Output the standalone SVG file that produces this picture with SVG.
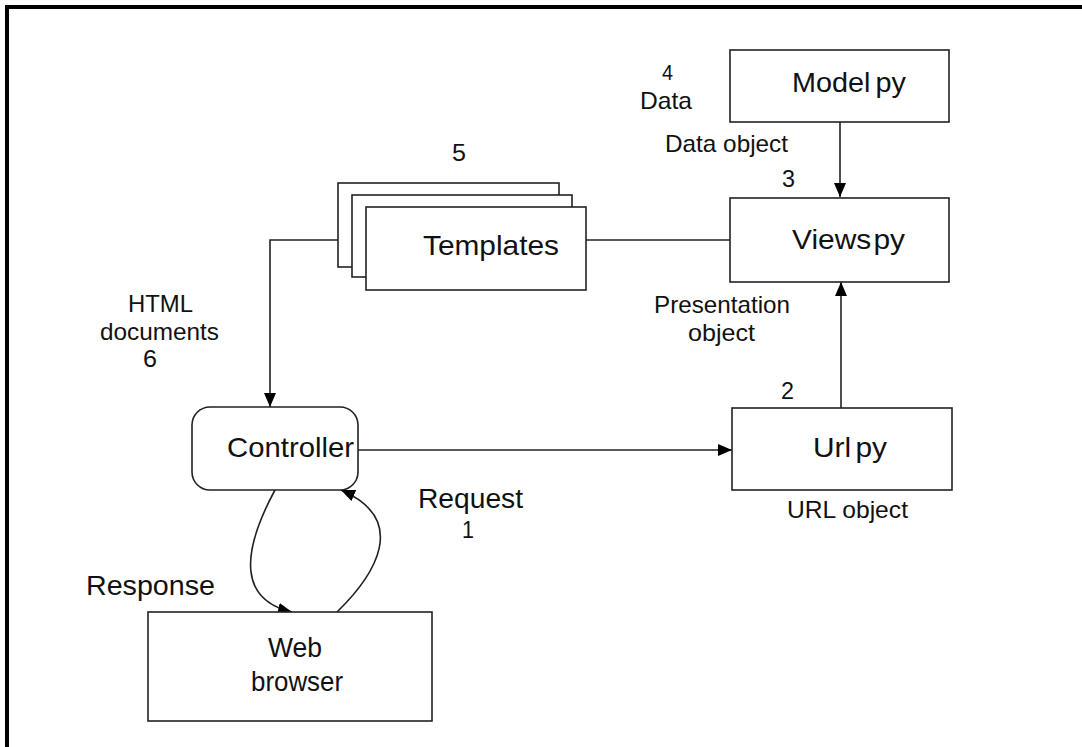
<svg xmlns="http://www.w3.org/2000/svg" width="1082" height="747" viewBox="0 0 1082 747">
<style>
.box{fill:#fff;stroke:#222;stroke-width:1.6}
.ln{fill:none;stroke:#222;stroke-width:1.6}
.t{font-family:"Liberation Sans",Arial,sans-serif;fill:#111}
</style>
<defs>
<marker id="ah" markerUnits="userSpaceOnUse" markerWidth="16" markerHeight="14" refX="14" refY="6" orient="auto">
<path d="M0,0 L14,6 L0,12 Z" fill="#000"/>
</marker>
</defs>
<rect width="1082" height="747" fill="#fff"/>
<path d="M7,747 V7 H1082" fill="none" stroke="#000" stroke-width="4"/>

<g id="connectors">
<line class="ln" x1="840" y1="122" x2="840" y2="197" marker-end="url(#ah)"/>
<line class="ln" x1="841" y1="408" x2="841" y2="282" marker-end="url(#ah)"/>
<line class="ln" x1="586" y1="240" x2="730" y2="240"/>
<path class="ln" d="M338,240 H270 V407" marker-end="url(#ah)"/>
<line class="ln" x1="358" y1="450" x2="732" y2="450" marker-end="url(#ah)"/>
<path class="ln" d="M275,490 C240,555 240,600 292,612" marker-end="url(#ah)"/>
<path class="ln" d="M337,612 C375,575 410,520 341,490" marker-end="url(#ah)"/>
</g>

<g id="model">
<rect class="box" x="730" y="50" width="219" height="72"/>
<text class="t" x="792" y="92" font-size="28" textLength="114" lengthAdjust="spacingAndGlyphs">Model<tspan dx="5">py</tspan></text>
</g>
<g id="views">
<rect class="box" x="730" y="198" width="219" height="84"/>
<text class="t" x="792" y="249" font-size="28" textLength="113" lengthAdjust="spacingAndGlyphs">Views<tspan dx="2">py</tspan></text>
</g>
<g id="url">
<rect class="box" x="732" y="408" width="220" height="82"/>
<text class="t" x="813" y="457" font-size="28" textLength="74" lengthAdjust="spacingAndGlyphs">Url<tspan dx="4">py</tspan></text>
</g>
<g id="templates">
<rect class="box" x="338" y="183" width="221" height="84"/>
<rect class="box" x="352" y="195" width="220" height="82"/>
<rect class="box" x="366" y="207" width="220" height="83"/>
<text class="t" x="423" y="255" font-size="28" textLength="136" lengthAdjust="spacingAndGlyphs">Templates</text>
</g>
<g id="controller">
<rect class="box" x="192" y="407" width="166" height="83" rx="18" ry="18"/>
<text class="t" x="227" y="457" font-size="28" textLength="127" lengthAdjust="spacingAndGlyphs">Controller</text>
</g>
<g id="browser">
<rect class="box" x="148" y="612" width="284" height="109"/>
<text class="t" x="268" y="657" font-size="27" textLength="54" lengthAdjust="spacingAndGlyphs">Web</text>
<text class="t" x="251" y="691" font-size="27" textLength="92" lengthAdjust="spacingAndGlyphs">browser</text>
</g>

<g id="labels" class="t">
<text x="662" y="80" font-size="22" textLength="11" lengthAdjust="spacingAndGlyphs">4</text>
<text x="640" y="109" font-size="24" textLength="52" lengthAdjust="spacingAndGlyphs">Data</text>
<text x="665" y="152" font-size="24" textLength="123" lengthAdjust="spacingAndGlyphs">Data object</text>
<text x="782" y="187" font-size="23" textLength="13" lengthAdjust="spacingAndGlyphs">3</text>
<text x="452" y="161" font-size="24" textLength="14" lengthAdjust="spacingAndGlyphs">5</text>
<text x="654" y="313" font-size="24" textLength="136" lengthAdjust="spacingAndGlyphs">Presentation</text>
<text x="688" y="341" font-size="24" textLength="67" lengthAdjust="spacingAndGlyphs">object</text>
<text x="781" y="399" font-size="23" textLength="13" lengthAdjust="spacingAndGlyphs">2</text>
<text x="787" y="518" font-size="24" textLength="121" lengthAdjust="spacingAndGlyphs">URL object</text>
<text x="128" y="312" font-size="24" textLength="65" lengthAdjust="spacingAndGlyphs">HTML</text>
<text x="100" y="340" font-size="24" textLength="119" lengthAdjust="spacingAndGlyphs">documents</text>
<text x="143" y="367" font-size="24" textLength="14" lengthAdjust="spacingAndGlyphs">6</text>
<text x="86" y="595" font-size="28" textLength="129" lengthAdjust="spacingAndGlyphs">Response</text>
<text x="418" y="508" font-size="27" textLength="105" lengthAdjust="spacingAndGlyphs">Request</text>
<text x="462" y="538" font-size="24" textLength="12" lengthAdjust="spacingAndGlyphs">1</text>
</g>
</svg>
